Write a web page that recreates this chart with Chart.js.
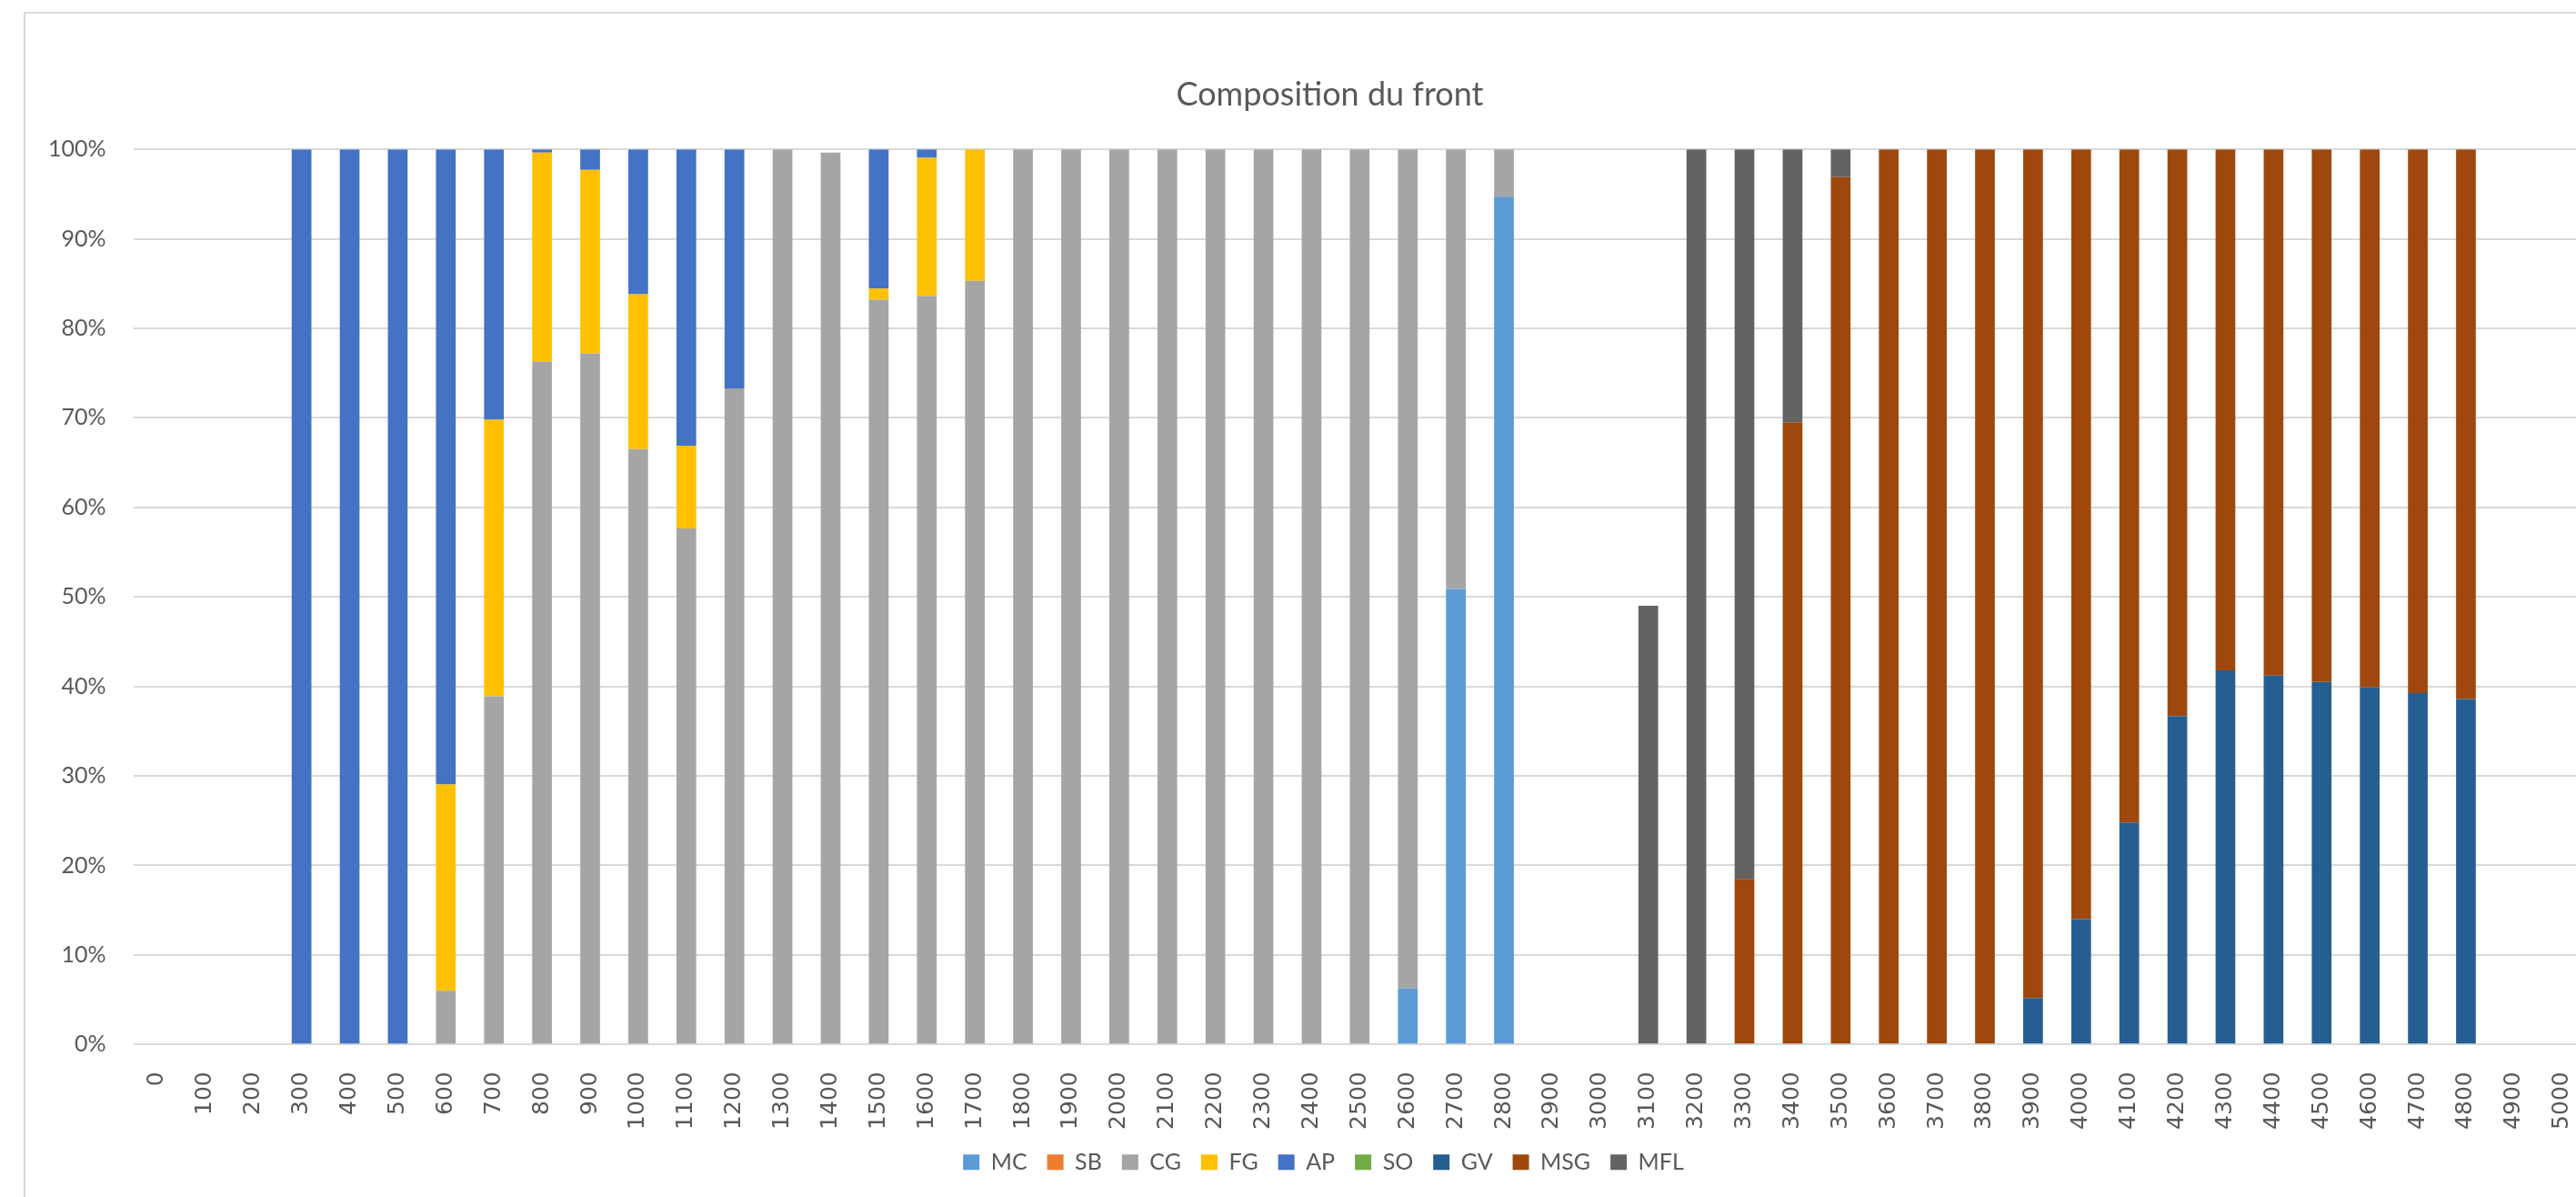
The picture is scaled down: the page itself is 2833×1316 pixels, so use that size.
<!DOCTYPE html>
<html>
<head>
<meta charset="utf-8">
<title>Composition du front</title>
<script src="https://cdn.jsdelivr.net/npm/chart.js@4/dist/chart.umd.min.js"></script>
<style>
  html, body { margin: 0; padding: 0; background: #ffffff; overflow: hidden; }
  #wrap { position: absolute; left: 0; top: 0; width: 2870px; height: 1316px; }
  canvas { display: block; }
</style>
</head>
<body>
<div id="wrap"><canvas id="chart" width="2870" height="1316"></canvas></div>
<script>
// Distance along the front (m)
const categories = ["0","100","200","300","400","500","600","700","800","900",
  "1000","1100","1200","1300","1400","1500","1600","1700","1800","1900",
  "2000","2100","2200","2300","2400","2500","2600","2700","2800","2900",
  "3000","3100","3200","3300","3400","3500","3600","3700","3800","3900",
  "4000","4100","4200","4300","4400","4500","4600","4700","4800","4900","5000"];

// Share of each facies per station (%)
const MC  = [0,0,0,0,0,0,0,0,0,0, 0,0,0,0,0,0,0,0,0,0, 0,0,0,0,0,0,6.25,50.9,94.7,0, 0,0,0,0,0,0,0,0,0,0, 0,0,0,0,0,0,0,0,0,0,0];
const SB  = [0,0,0,0,0,0,0,0,0,0, 0,0,0,0,0,0,0,0,0,0, 0,0,0,0,0,0,0,0,0,0, 0,0,0,0,0,0,0,0,0,0, 0,0,0,0,0,0,0,0,0,0,0];
const CG  = [0,0,0,0,0,0,6.0,38.9,76.3,77.2, 66.5,57.65,73.3,100,99.65,83.2,83.6,85.3,100,100, 100,100,100,100,100,100,93.75,49.1,5.3,0, 0,0,0,0,0,0,0,0,0,0, 0,0,0,0,0,0,0,0,0,0,0];
const FG  = [0,0,0,0,0,0,23.05,30.9,23.35,20.5, 17.3,9.25,0,0,0,1.25,15.45,14.7,0,0, 0,0,0,0,0,0,0,0,0,0, 0,0,0,0,0,0,0,0,0,0, 0,0,0,0,0,0,0,0,0,0,0];
const AP  = [0,0,0,100,100,100,70.95,30.2,0.35,2.3, 16.2,33.1,26.7,0,0,15.55,0.95,0,0,0, 0,0,0,0,0,0,0,0,0,0, 0,0,0,0,0,0,0,0,0,0, 0,0,0,0,0,0,0,0,0,0,0];
const SO  = [0,0,0,0,0,0,0,0,0,0, 0,0,0,0,0,0,0,0,0,0, 0,0,0,0,0,0,0,0,0,0, 0,0,0,0,0,0,0,0,0,0, 0,0,0,0,0,0,0,0,0,0,0];
const GV  = [0,0,0,0,0,0,0,0,0,0, 0,0,0,0,0,0,0,0,0,0, 0,0,0,0,0,0,0,0,0,0, 0,0,0,0,0,0,0,0,0,5.2, 14.0,24.8,36.7,41.8,41.2,40.5,39.9,39.25,38.6,0,0];
const MSG = [0,0,0,0,0,0,0,0,0,0, 0,0,0,0,0,0,0,0,0,0, 0,0,0,0,0,0,0,0,0,0, 0,0,0,18.5,69.5,96.9,100,100,100,94.8, 86.0,75.2,63.3,58.2,58.8,59.5,60.1,60.75,61.4,0,0];
const MFL = [0,0,0,0,0,0,0,0,0,0, 0,0,0,0,0,0,0,0,0,0, 0,0,0,0,0,0,0,0,0,0, 0,49.0,100,81.5,30.5,3.1,0,0,0,0, 0,0,0,0,0,0,0,0,0,0,0];

const seriesNames = ["MC","SB","CG","FG","AP","SO","GV","MSG","MFL"];
const seriesValues = [MC, SB, CG, FG, AP, SO, GV, MSG, MFL];
const seriesColors = ["#5B9BD5","#ED7D31","#A5A5A5","#FFC000","#4472C4","#70AD47","#255E91","#9E480E","#636363"];

// Value axis: 0% to 100% in steps of 10%
const yMin = 0, yMax = 100, yStep = 10;

const W = 2870, H = 1316;
const PLOT_LEFT = 146.5, PLOT_RIGHT = 2844.4;
// Left edges used to centre the title and legend over the framed chart
const TITLE_LEFT = 80.6, LEGEND_LEFT = 66.6;

const frame = {
  id: 'frame',
  beforeDraw(chart) {
    const ctx = chart.ctx;
    ctx.save();
    ctx.fillStyle = '#ffffff';
    ctx.fillRect(0, 0, chart.width, chart.height);
    ctx.strokeStyle = '#D9D9D9';
    ctx.lineWidth = 2;
    ctx.strokeRect(27, 14, chart.width + 20, chart.height + 20);
    ctx.restore();
    if (chart.titleBlock) chart.titleBlock.left = TITLE_LEFT;
    if (chart.legend) chart.legend.left = LEGEND_LEFT;
  }
};

new Chart(document.getElementById('chart'), {
  type: 'bar',
  data: {
    labels: categories,
    datasets: seriesNames.map((name, i) => ({
      label: name,
      data: seriesValues[i],
      backgroundColor: seriesColors[i],
      borderWidth: 0,
      barPercentage: 0.41,
      categoryPercentage: 1.0
    }))
  },
  options: {
    responsive: false,
    animation: false,
    layout: { padding: { left: 0, right: W - PLOT_RIGHT, top: 0, bottom: 15.7 } },
    plugins: {
      title: {
        display: true,
        text: 'Composition du front',
        color: '#595959',
        font: { family: 'Lato', size: 36, weight: 'normal' },
        padding: { top: 83, bottom: 38 }
      },
      legend: {
        position: 'bottom',
        labels: {
          boxWidth: 18,
          boxHeight: 17,
          padding: 22,
          color: '#595959',
          font: { family: 'Lato', size: 25 }
        }
      },
      tooltip: { enabled: false }
    },
    scales: {
      x: {
        stacked: true,
        grid: { display: false },
        border: { display: false },
        ticks: {
          autoSkip: false,
          maxRotation: 90,
          minRotation: 90,
          padding: 22,
          color: '#595959',
          font: { family: 'DejaVu Sans', size: 25 }
        },
        afterFit(scale) { scale.height = 95; }
      },
      y: {
        stacked: true,
        min: yMin,
        max: yMax,
        grid: { color: '#D9D9D9', lineWidth: 2, drawTicks: false },
        border: { display: false },
        ticks: {
          stepSize: yStep,
          padding: 30,
          color: '#595959',
          font: { family: 'Lato', size: 25 },
          callback: v => v + '%'
        },
        afterFit(scale) { scale.width = PLOT_LEFT; }
      }
    }
  },
  plugins: [frame]
});
</script>
</body>
</html>
